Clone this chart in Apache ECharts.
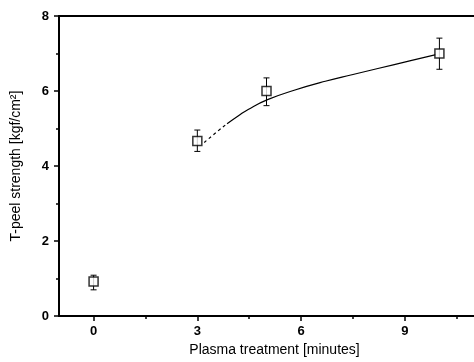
<!DOCTYPE html>
<html>
<head>
<meta charset="utf-8">
<script src="https://cdn.jsdelivr.net/npm/echarts@6/dist/echarts.min.js"></script>
<style>
  html, body { margin: 0; padding: 0; background: #fff; }
  #chart { width: 474px; height: 362px; }
</style>
</head>
<body>
<div id="chart"></div>
<script>
// measured points: treatment time, mean, lower and upper error
const times = [0, 3, 5, 10];
const strength = [0.92, 4.67, 6.0, 7.0];
const errLow = [0.70, 4.39, 5.61, 6.58];
const errHigh = [1.09, 4.96, 6.35, 7.41];

// fitted trend, dashed start then solid
const fitDashed = [[3.2, 4.63], [3.59, 4.93], [3.86, 5.13]];
const fitSolid = [[3.86, 5.13], [4.2, 5.35], [4.47, 5.51], [5.03, 5.77], [5.8, 6.02],
  [6.7, 6.26], [7.5, 6.44], [8.22, 6.60], [9.17, 6.81], [9.9, 6.97]];

const xMajor = [0, 3, 6, 9];
const xMinor = [1.5, 4.5, 7.5, 10.5];

const font = 'Liberation Sans, Arial, sans-serif';
const chart = echarts.init(document.getElementById('chart'));

const lineAxis = { show: true, onZero: false, lineStyle: { color: '#000', width: 2 } };
const tickFont = { color: '#000', fontSize: 13, fontWeight: 'bold', fontFamily: font };

chart.setOption({
  animation: false,
  grid: { left: 59, top: 16, right: -3, bottom: 42 },
  xAxis: [
    {
      type: 'value', min: -1, max: 11,
      name: 'Plasma treatment [minutes]',
      nameLocation: 'middle', nameGap: 23,
      nameTextStyle: { color: '#000', fontSize: 14, fontFamily: font, padding: [0, 0, 0, 16] },
      axisLine: lineAxis,
      axisTick: { show: true, length: 5, lineStyle: { color: '#000', width: 1.5 }, customValues: xMajor },
      axisLabel: Object.assign({ margin: 9, customValues: xMajor }, tickFont),
      splitLine: { show: false }
    },
    {
      type: 'value', min: -1, max: 11, position: 'bottom',
      axisLine: { show: false, onZero: false },
      axisTick: { show: true, length: 3, lineStyle: { color: '#000', width: 1.5 }, customValues: xMinor },
      axisLabel: { show: false },
      splitLine: { show: false }
    },
    {
      type: 'value', min: -1, max: 11, position: 'top',
      axisLine: lineAxis,
      axisTick: { show: false }, axisLabel: { show: false }, splitLine: { show: false }
    }
  ],
  yAxis: {
    type: 'value', min: 0, max: 8, interval: 2,
    name: 'T-peel strength [kgf/cm²]',
    nameLocation: 'middle', nameGap: 36,
    nameTextStyle: { color: '#000', fontSize: 14, fontFamily: font },
    axisLine: lineAxis,
    axisTick: { show: true, length: 5, lineStyle: { color: '#000', width: 1.5 } },
    minorTick: { show: true, splitNumber: 2, length: 3, lineStyle: { color: '#000', width: 1.5 } },
    axisLabel: Object.assign({ margin: 10 }, tickFont),
    splitLine: { show: false }
  },
  series: [
    {
      type: 'line', data: fitDashed, smooth: true, symbol: 'none',
      lineStyle: { color: '#000', width: 1.2, type: [3, 3] }
    },
    {
      type: 'line', data: fitSolid, smooth: true, symbol: 'none',
      lineStyle: { color: '#000', width: 1.2 }
    },
    {
      type: 'custom',
      data: times.map((t, i) => [t, errLow[i], errHigh[i]]),
      renderItem: (params, api) => {
        const lo = api.coord([api.value(0), api.value(1)]);
        const hi = api.coord([api.value(0), api.value(2)]);
        const style = { stroke: '#000', lineWidth: 1 };
        return {
          type: 'group',
          children: [
            { type: 'line', shape: { x1: lo[0], y1: lo[1], x2: hi[0], y2: hi[1] }, style },
            { type: 'line', shape: { x1: lo[0] - 3, y1: lo[1], x2: lo[0] + 3, y2: lo[1] }, style },
            { type: 'line', shape: { x1: hi[0] - 3, y1: hi[1], x2: hi[0] + 3, y2: hi[1] }, style }
          ]
        };
      },
      z: 3
    },
    {
      type: 'scatter',
      data: times.map((t, i) => [t, strength[i]]),
      symbol: 'rect', symbolSize: 9,
      itemStyle: { color: '#fff', borderColor: '#000', borderWidth: 1.5 },
      z: 5
    }
  ]
});
</script>
</body>
</html>
